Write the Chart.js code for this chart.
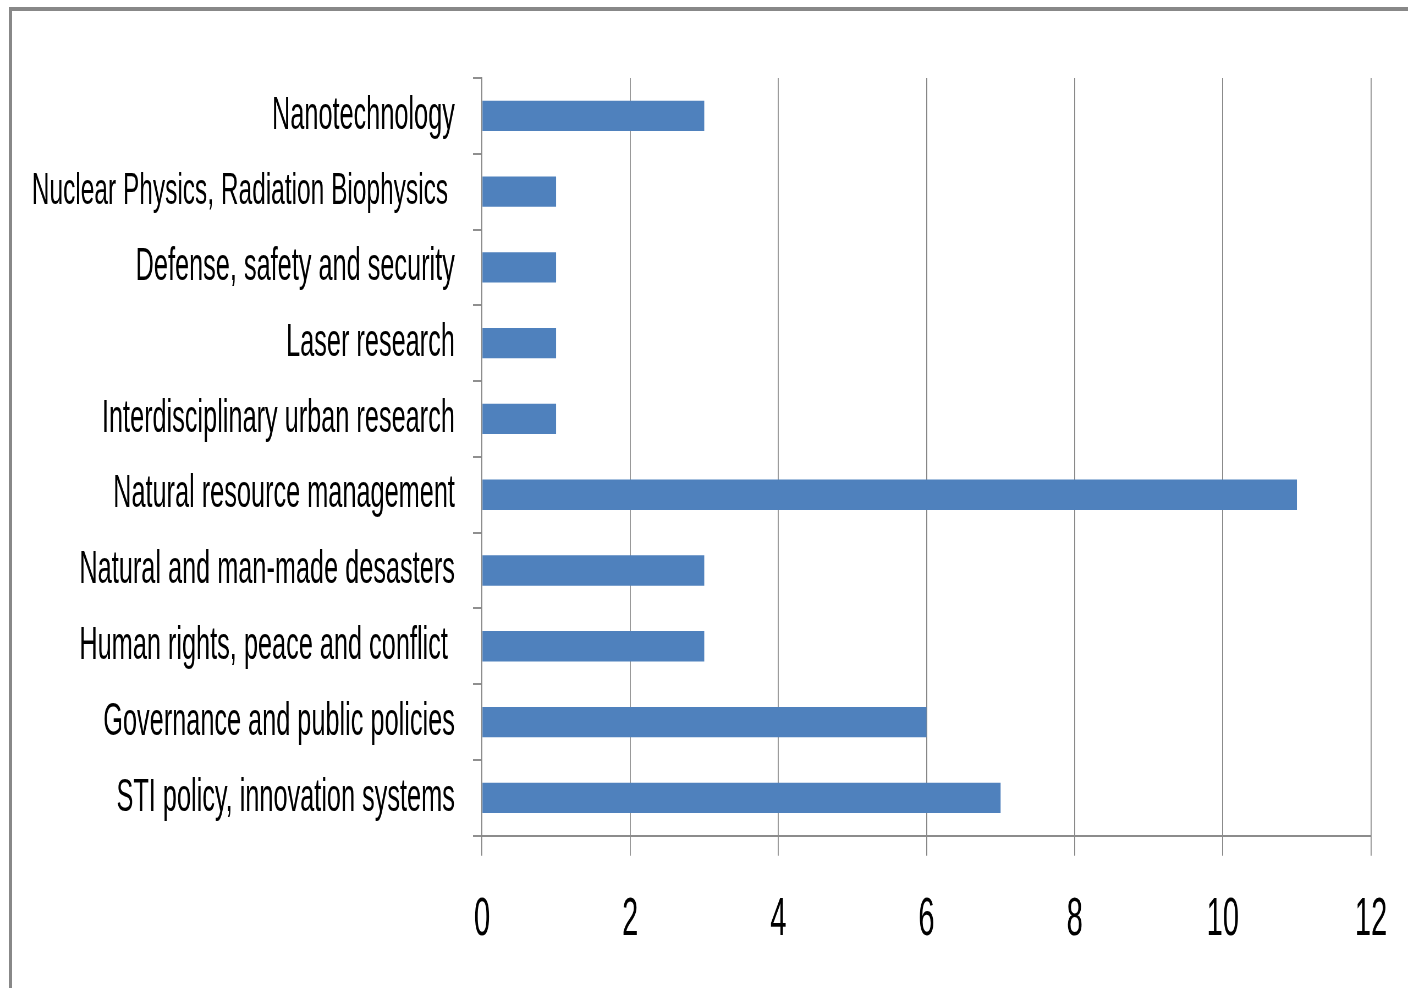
<!DOCTYPE html>
<html>
<head>
<meta charset="utf-8">
<script src="https://cdn.jsdelivr.net/npm/chart.js@4/dist/chart.umd.min.js"></script>
<style>
    html, body { margin: 0; padding: 0; background: #fff; overflow: hidden; }
    .frame {
        position: absolute; left: 9px; top: 7px; width: 2000px; height: 2000px;
        border-top: 4px solid #888; border-left: 3px solid #888;
    }
    #chart { position: absolute; left: 0; top: 0; }
</style>
</head>
<body>
<div class="frame"></div>
<canvas id="chart" width="2560" height="988" style="width:1408px;height:988px"></canvas>
<script>
// categories (top to bottom) and the value per category
const categories = [
    "Nanotechnology",
    "Nuclear Physics, Radiation Biophysics ",
    "Defense, safety and security",
    "Laser research",
    "Interdisciplinary urban research",
    "Natural resource management",
    "Natural and man-made desasters",
    "Human rights, peace and conflict ",
    "Governance and public policies",
    "STI policy, innovation systems"
];
const values = [3, 1, 1, 1, 1, 11, 3, 3, 6, 7];

// value axis range
const axisMin = 0;
const axisMax = 12;
const axisStep = 2;

// canvas is drawn wide and squeezed horizontally by css -> narrow lettering
const SX = 1408 / 2560;
const px = v => v / SX;

const gridGray = "#878787";

new Chart(document.getElementById("chart"), {
    type: "bar",
    data: {
        labels: categories,
        datasets: [{
            data: values,
            backgroundColor: "#4F81BD",
            borderWidth: 0,
            barPercentage: 0.4,
            categoryPercentage: 1
        }]
    },
    options: {
        indexAxis: "y",
        responsive: false,
        animation: false,
        devicePixelRatio: 1,
        layout: { padding: { left: 0, top: 78, right: 2560 - px(1371), bottom: 0 } },
        plugins: { legend: { display: false }, tooltip: { enabled: false } },
        scales: {
            x: {
                min: axisMin,
                max: axisMax,
                ticks: {
                    stepSize: axisStep,
                    color: "#000",
                    padding: 33,
                    font: { family: "Liberation Sans", size: 53 }
                },
                grid: { color: gridGray, lineWidth: px(1), tickLength: 20 },
                border: { color: "#8c8c8c", width: 2 },
                afterFit: s => { s.height = 988 - 835.7; }
            },
            y: {
                ticks: {
                    color: "#000",
                    padding: 33,
                    autoSkip: false,
                    font: ctx => ({ family: "Liberation Sans", size: ctx.index === 1 ? 44.5 : 46 })
                },
                grid: { drawOnChartArea: false, color: "#8f8f8f", lineWidth: 2, tickLength: px(9) },
                border: { color: gridGray, width: px(1) },
                afterFit: s => { s.width = px(482); }
            }
        }
    }
});
</script>
</body>
</html>
